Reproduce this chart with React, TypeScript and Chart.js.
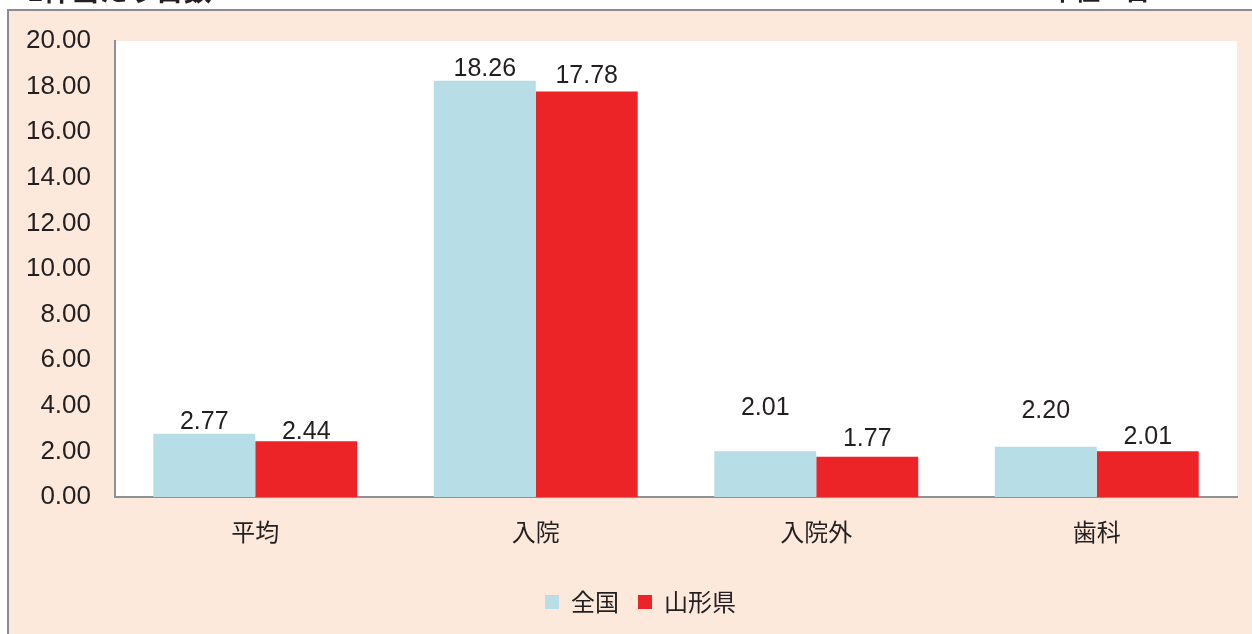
import React, { useEffect, useRef } from "react";
import { Chart, registerables } from "chart.js";

Chart.register(...registerables);

const categories = ["平均", "入院", "入院外", "歯科"];
const seriesNames = ["全国", "山形県"];
const zenkoku = [2.77, 18.26, 2.01, 2.20];
const yamagata = [2.44, 17.78, 1.77, 2.01];
const yTicks = [0, 2, 4, 6, 8, 10, 12, 14, 16, 18, 20];
const titleText = "1件当たり日数";
const unitText = "単位：日";

// label gap above bar tops (px), mimicking hand-placed labels
const labelGaps = [
  [5, 5, 36, 29],
  [2, 9, 11, 7],
];

const BLUE = "#B7DDE6";
const RED = "#EC2327";
const PEACH = "#FCE9DC";
const AXIS = "#8E9297";
const TEXT = "#231F20";
const NUM_FONT = "'Liberation Sans', Arial, sans-serif";
const JP_FONT = "'Noto Sans CJK JP', sans-serif";

const backgroundPlugin = {
  id: "bgBox",
  afterLayout(chart: any) {
    const lg = chart.legend;
    if (lg) {
      lg.left += 22;
      lg.right += 22;
    }
  },
  beforeDraw(chart: any) {
    const { ctx, width, height, chartArea } = chart;
    ctx.save();
    ctx.fillStyle = "#FFFFFF";
    ctx.fillRect(0, 0, width, height);
    ctx.fillStyle = PEACH;
    ctx.fillRect(9, 11, width - 9, height - 11);
    ctx.strokeStyle = "#8A8C8E";
    ctx.lineWidth = 2;
    ctx.beginPath();
    ctx.moveTo(8, height);
    ctx.lineTo(8, 10);
    ctx.lineTo(width, 10);
    ctx.stroke();
    ctx.fillStyle = "#FFFFFF";
    ctx.fillRect(chartArea.left, chartArea.top, chartArea.right - chartArea.left, chartArea.bottom - chartArea.top);
    ctx.fillStyle = TEXT;
    ctx.textBaseline = "ideographic";
    ctx.font = "bold 28px " + JP_FONT;
    ctx.textAlign = "left";
    ctx.fillText(titleText, 27, 4);
    ctx.font = "bold 25px " + JP_FONT;
    ctx.fillText(unitText, 1050, 3);
    ctx.restore();
  },
};

const labelPlugin = {
  id: "barLabels",
  afterDatasetsDraw(chart: any) {
    const { ctx } = chart;
    ctx.save();
    ctx.fillStyle = TEXT;
    ctx.font = "25px " + NUM_FONT;
    ctx.textAlign = "center";
    ctx.textBaseline = "alphabetic";
    chart.data.datasets.forEach((ds: any, di: number) => {
      const meta = chart.getDatasetMeta(di);
      meta.data.forEach((bar: any, i: number) => {
        const v = ds.data[i] as number;
        ctx.fillText(v.toFixed(2), bar.x, bar.y - labelGaps[di][i]);
      });
    });
    ctx.restore();
  },
};

export default function App() {
  const ref = useRef<HTMLCanvasElement | null>(null);
  useEffect(() => {
    if (!ref.current) return;
    const chart = new Chart(ref.current, {
      type: "bar",
      data: {
        labels: categories,
        datasets: [
          { label: seriesNames[0], data: zenkoku, backgroundColor: BLUE, borderWidth: 0 },
          { label: seriesNames[1], data: yamagata, backgroundColor: RED, borderWidth: 0 },
        ],
      },
      options: {
        responsive: false,
        animation: false,
        devicePixelRatio: 1,
        layout: { padding: { left: 0, top: 41, right: 15, bottom: 10 } },
        datasets: { bar: { categoryPercentage: 0.727, barPercentage: 1.0 } },
        scales: {
          x: {
            grid: { display: false, drawTicks: false },
            border: { display: true, color: AXIS, width: 2 },
            ticks: { color: TEXT, font: { family: JP_FONT, size: 24 }, padding: 20 },
            afterFit: (s: any) => {
              s.height = 74;
            },
          },
          y: {
            min: 0,
            max: 20,
            afterBuildTicks: (s: any) => {
              s.ticks = yTicks.map((v) => ({ value: v }));
            },
            grid: { display: false, drawTicks: false },
            border: { display: true, color: AXIS, width: 2 },
            ticks: {
              color: TEXT,
              font: { family: NUM_FONT, size: 26 },
              padding: 24,
              callback: (v: any) => Number(v).toFixed(2),
            },
            afterFit: (s: any) => {
              s.width = 115;
            },
          },
        },
        plugins: {
          legend: {
            position: "bottom",
            labels: {
              boxWidth: 14,
              boxHeight: 14,
              color: TEXT,
              font: { family: JP_FONT, size: 24 },
              padding: 19,
            },
          },
          tooltip: { enabled: false },
        },
      },
      plugins: [backgroundPlugin, labelPlugin],
    });
    return () => chart.destroy();
  }, []);
  return (
    <div style={{ position: "fixed", left: 0, top: 0, width: 1252, height: 634 }}>
      <canvas ref={ref} width={1252} height={634} style={{ display: "block" }} />
    </div>
  );
}
